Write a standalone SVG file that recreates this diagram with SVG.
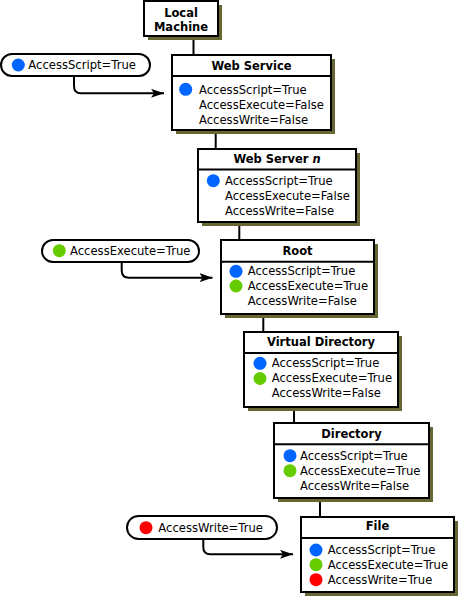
<svg xmlns="http://www.w3.org/2000/svg" width="459" height="596" viewBox="0 0 459 596">
<style>
.box{fill:#fff;stroke:#000;stroke-width:2}
.sh{fill:#666633}
.div{stroke:#000;stroke-width:2}
.t{font-family:"DejaVu Sans",Verdana,sans-serif;font-size:11.6px;fill:#000}
.h{font-family:"DejaVu Sans",Verdana,sans-serif;font-size:11.5px;font-weight:bold;fill:#000;text-anchor:middle}
.pill{fill:#fff;stroke:#000;stroke-width:2}
.con{stroke:#000;stroke-width:2;fill:none}
.b{fill:#0066ff}.g{fill:#66cc00}.r{fill:#ff0000}
</style>
<defs>
<marker id="ah" markerUnits="userSpaceOnUse" markerWidth="14" markerHeight="10" refX="13" refY="4.5" orient="auto">
<path d="M0,0 L13,4.5 L0,9 L3,4.5 Z" fill="#000"/>
</marker>
</defs>
<g id="connectors">
<line class="con" x1="193.5" y1="36" x2="193.5" y2="55"/>
<line class="con" x1="215.7" y1="130" x2="215.7" y2="149"/>
<line class="con" x1="239.3" y1="222" x2="239.3" y2="240"/>
<line class="con" x1="263.3" y1="314" x2="263.3" y2="332"/>
<line class="con" x1="294" y1="407" x2="294" y2="423"/>
<line class="con" x1="320" y1="498" x2="320" y2="517"/>
<path class="con" d="M74,76 V86 Q74,93.3 81,93.3 H164" marker-end="url(#ah)"/>
<path class="con" d="M121.7,262 V270.5 Q121.7,277.7 129,277.7 H212.5" marker-end="url(#ah)"/>
<path class="con" d="M203.3,539 V547 Q203.3,554.3 210.5,554.3 H293" marker-end="url(#ah)"/>
</g>
<g id="local-machine">
<rect class="sh" x="148" y="5" width="74" height="35"/>
<rect class="box" x="144" y="1" width="74" height="35"/>
<text class="h" x="181" y="16.5">Local</text>
<text class="h" x="181" y="31">Machine</text>
</g>
<g id="web-service">
<rect class="sh" x="176" y="59" width="159" height="75"/>
<rect class="box" x="172" y="55" width="159" height="75"/>
<line class="div" x1="172" y1="76" x2="331" y2="76"/>
<text class="h" x="251.5" y="69.5">Web Service</text>
<circle class="b" cx="185.7" cy="89.3" r="6.5"/>
<text class="t" x="199" y="93.5">AccessScript=True</text>
<text class="t" x="199" y="108.5">AccessExecute=False</text>
<text class="t" x="199" y="123.5">AccessWrite=False</text>
</g>
<g id="web-server-n">
<rect class="sh" x="202" y="153" width="158" height="73"/>
<rect class="box" x="198" y="149" width="158" height="73"/>
<line class="div" x1="198" y1="169.5" x2="356" y2="169.5"/>
<text class="h" x="277" y="162.7">Web Server <tspan font-style="italic">n</tspan></text>
<circle class="b" cx="213.3" cy="180.7" r="6.5"/>
<text class="t" x="225" y="184.7">AccessScript=True</text>
<text class="t" x="225" y="199.7">AccessExecute=False</text>
<text class="t" x="225" y="214.7">AccessWrite=False</text>
</g>
<g id="root">
<rect class="sh" x="225" y="244" width="153" height="74"/>
<rect class="box" x="221" y="240" width="153" height="74"/>
<line class="div" x1="221" y1="261.7" x2="374" y2="261.7"/>
<text class="h" x="297.5" y="255">Root</text>
<circle class="b" cx="236" cy="271.3" r="6.5"/>
<circle class="g" cx="236" cy="286" r="6.5"/>
<text class="t" x="247.7" y="275.3">AccessScript=True</text>
<text class="t" x="247.7" y="290">AccessExecute=True</text>
<text class="t" x="247.7" y="304.7">AccessWrite=False</text>
</g>
<g id="virtual-directory">
<rect class="sh" x="248" y="336" width="154" height="75"/>
<rect class="box" x="244" y="332" width="154" height="75"/>
<line class="div" x1="244" y1="353" x2="398" y2="353"/>
<text class="h" x="321" y="346">Virtual Directory</text>
<circle class="b" cx="260" cy="363.3" r="6.5"/>
<circle class="g" cx="260" cy="378.5" r="6.5"/>
<text class="t" x="271.7" y="367.3">AccessScript=True</text>
<text class="t" x="271.7" y="382.3">AccessExecute=True</text>
<text class="t" x="271.7" y="397.3">AccessWrite=False</text>
</g>
<g id="directory">
<rect class="sh" x="278" y="427" width="155" height="75"/>
<rect class="box" x="274" y="423" width="155" height="75"/>
<line class="div" x1="274" y1="444.3" x2="429" y2="444.3"/>
<text class="h" x="351.5" y="438.4">Directory</text>
<circle class="b" cx="290" cy="455.7" r="6.5"/>
<circle class="g" cx="290" cy="470.7" r="6.5"/>
<text class="t" x="300" y="459.7">AccessScript=True</text>
<text class="t" x="300" y="474.7">AccessExecute=True</text>
<text class="t" x="300" y="489.7">AccessWrite=False</text>
</g>
<g id="file">
<rect class="sh" x="305" y="521" width="153" height="75"/>
<rect class="box" x="301" y="517" width="153" height="75"/>
<line class="div" x1="301" y1="538" x2="454" y2="538"/>
<text class="h" x="377.5" y="530.4">File</text>
<circle class="b" cx="316" cy="550" r="6.5"/>
<circle class="g" cx="316" cy="564.7" r="6.5"/>
<circle class="r" cx="316" cy="579.7" r="6.5"/>
<text class="t" x="327.7" y="554">AccessScript=True</text>
<text class="t" x="327.7" y="569">AccessExecute=True</text>
<text class="t" x="327.7" y="584">AccessWrite=True</text>
</g>
<g id="pill-script">
<rect class="pill" x="1" y="54" width="149" height="22" rx="11"/>
<circle class="b" cx="18.3" cy="65" r="6.5"/>
<text class="t" x="28.3" y="69">AccessScript=True</text>
</g>
<g id="pill-execute">
<rect class="pill" x="42" y="240" width="157" height="22" rx="11"/>
<circle class="g" cx="59.3" cy="250.7" r="6.5"/>
<text class="t" x="70" y="255">AccessExecute=True</text>
</g>
<g id="pill-write">
<rect class="pill" x="127" y="516" width="150" height="23" rx="11.5"/>
<circle class="r" cx="146" cy="527.7" r="6.5"/>
<text class="t" x="158.3" y="532">AccessWrite=True</text>
</g>
</svg>
